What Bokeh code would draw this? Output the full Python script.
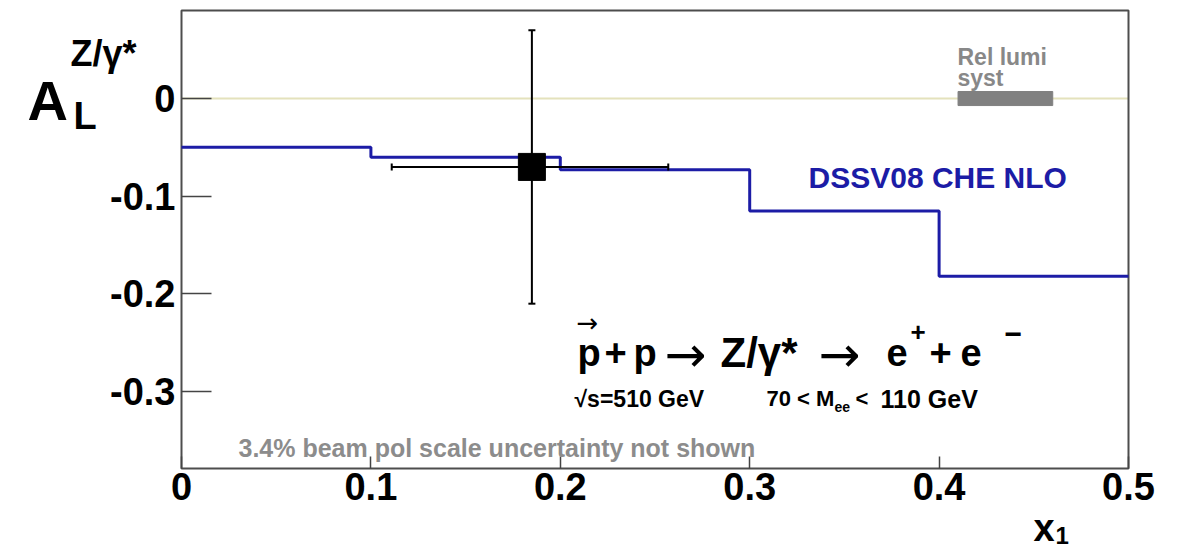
from bokeh.plotting import figure
from bokeh.models import Label, FixedTicker, LinearAxis, Range1d
from bokeh.embed import file_html
from bokeh.resources import INLINE

# ---------------- data ----------------
bin_edges = [0.0, 0.1, 0.2, 0.3, 0.4, 0.5]
theory_dssv08 = [-0.050, -0.060, -0.073, -0.115, -0.182]

data_x = [0.185]
data_y = [-0.070]
data_xerr_lo = [0.074]
data_xerr_hi = [0.072]
data_yerr = [0.140]

lumi_syst_x = [0.41, 0.46]
lumi_syst_half = 0.0072

x_ticks = [0, 0.1, 0.2, 0.3, 0.4, 0.5]
x_tick_labels = ["0", "0.1", "0.2", "0.3", "0.4", "0.5"]
y_ticks = [0, -0.1, -0.2, -0.3]
y_tick_labels = ["0", "-0.1", "-0.2", "-0.3"]

x_lim = (0.0, 0.5)
y_lim = (-0.3787, 0.0901)

# ---------------- layout ----------------
W, H = 1179, 552
FL, FR, FT, FB = 181, 1128, 10, 468  # plot window in canvas pixels
FONT = "Liberation Sans"

sx = (x_lim[1] - x_lim[0]) / (FR - FL)
sy = (y_lim[1] - y_lim[0]) / (FB - FT)
x_range = Range1d(x_lim[0] - FL * sx, x_lim[1] + (W - FR) * sx)
y_range = Range1d(y_lim[0] - (H - FB) * sy, y_lim[1] + FT * sy)

p = figure(width=W, height=H, x_range=x_range, y_range=y_range,
           x_axis_type=None, y_axis_type=None,
           output_backend="svg", toolbar_location=None, min_border=0)
p.grid.visible = False
p.outline_line_color = None
p.background_fill_color = "white"
p.border_fill_color = "white"

xaxis = LinearAxis(fixed_location=y_lim[0])
yaxis = LinearAxis(fixed_location=x_lim[0])
for ax, ticks, labels, tin in ((xaxis, x_ticks, x_tick_labels, 12),
                               (yaxis, y_ticks, y_tick_labels, 30)):
    ax.ticker = FixedTicker(ticks=ticks)
    ax.major_label_overrides = {t: l for t, l in zip(ticks, labels)}
    ax.axis_line_color = None
    ax.major_tick_in = tin
    ax.major_tick_out = 0
    ax.major_tick_line_color = "#444444"
    ax.major_tick_line_width = 1.5
    ax.minor_tick_line_color = None
    ax.major_label_text_font = FONT
    ax.major_label_text_font_style = "bold"
    ax.major_label_text_font_size = "38px"
    ax.major_label_text_color = "black"
xaxis.major_label_standoff = 4
yaxis.major_label_standoff = 6
p.add_layout(xaxis, "below")
p.add_layout(yaxis, "left")

# zero line
p.line([x_lim[0], x_lim[1]], [0, 0], line_color="#e4e2bc", line_width=2)

# plot window frame
p.quad(left=[x_lim[0]], right=[x_lim[1]], bottom=[y_lim[0]], top=[y_lim[1]],
       fill_color=None, line_color="#4d4d4d", line_width=2)

# lumi syst box
p.quad(left=[lumi_syst_x[0]], right=[lumi_syst_x[1]],
       bottom=[-lumi_syst_half], top=[lumi_syst_half],
       fill_color="#808080", line_color="#808080")

# theory step curve
stx, sty = [], []
for i, v in enumerate(theory_dssv08):
    stx += [bin_edges[i], bin_edges[i + 1]]
    sty += [v, v]
p.line(stx, sty, line_color="#1c1ca6", line_width=3)

# data point with error bars
xl = [x - e for x, e in zip(data_x, data_xerr_lo)]
xh = [x + e for x, e in zip(data_x, data_xerr_hi)]
yl = [y - e for y, e in zip(data_y, data_yerr)]
yh = [y + e for y, e in zip(data_y, data_yerr)]
p.segment(x0=xl, y0=data_y, x1=xh, y1=data_y, line_color="black", line_width=2)
p.segment(x0=data_x, y0=yl, x1=data_x, y1=yh, line_color="black", line_width=2)
p.dash(x=xl + xh, y=data_y * 2, size=7, angle=1.5708, line_color="black", line_width=2)
p.dash(x=data_x * 2, y=yl + yh, size=7, line_color="black", line_width=2)
p.scatter(data_x, data_y, marker="square", size=27, fill_color="black", line_color="black")


# ---------------- texts ----------------
def X(px):
    return x_lim[0] + (px - FL) * sx


def Y(py):
    return y_lim[1] - (py - FT) * sy


def lab(text, px, py, size, color="black", style="bold", font=FONT):
    p.add_layout(Label(x=X(px), y=Y(py), text=text, text_font=font,
                       text_font_style=style, text_font_size=f"{size}px",
                       text_color=color, text_align="left",
                       text_baseline="alphabetic"))


# y-axis title A_L^{Z/γ*}
lab("A", 27, 100, 56)
lab("L", 73, 115, 38)
lab("Z/γ*", 70, 53, 36)
# x-axis title x_1
lab("x", 1033, 527, 38)
lab("1", 1055, 535, 24)

# lumi syst
lab("Rel lumi", 957, 56, 23, color="#888888")
lab("syst", 957, 77, 23, color="#888888")

# theory label
lab("DSSV08 CHE NLO", 808, 177, 30, color="#1c1ca6")

# process  p(arrow)+p -> Z/γ* -> e+ + e-
lab("→", 576, 322, 26, style="normal", font="DejaVu Sans")
lab("p", 577, 352, 38)
lab("+", 604, 352, 38)
lab("p", 633, 352, 38)
lab("→", 664, 354, 50, style="normal", font="DejaVu Sans")
lab("Z/γ*", 720, 352, 42)
lab("→", 818, 354, 50, style="normal", font="DejaVu Sans")
lab("e", 886, 352, 38)
lab("+", 910, 331, 26)
lab("+", 929, 352, 38)
lab("e", 960, 352, 38)
lab("−", 1004, 333, 30)

lab("√s=510 GeV", 574, 398, 23)
lab("70 < M", 766, 398, 22)
lab("ee", 834, 406, 14)
lab("<", 855, 398, 22)
lab("110 GeV", 880, 398, 25)

lab("3.4% beam pol scale uncertainty not shown", 238, 447, 25, color="#8c8c8c")

open("out.html", "w").write(file_html(p, INLINE))
